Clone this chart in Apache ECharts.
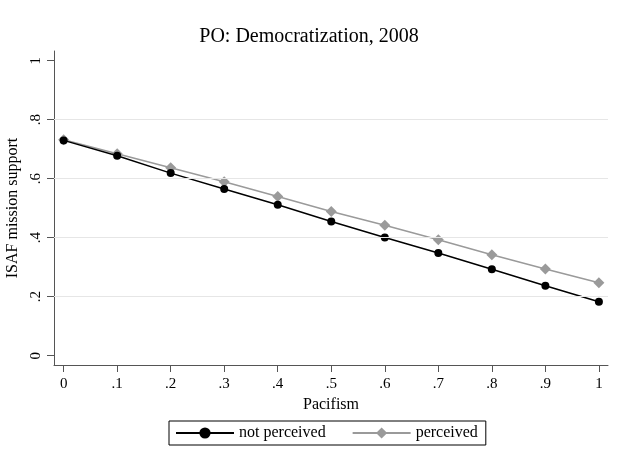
<!DOCTYPE html>
<html>
<head>
<meta charset="utf-8">
<script src="https://cdn.jsdelivr.net/npm/echarts@6/dist/echarts.min.js"></script>
<style>html,body{margin:0;padding:0;background:#fff}#c{width:618px;height:459px}</style>
</head>
<body>
<div id="c"></div>
<script>
const pacifism = [0, 0.1, 0.2, 0.3, 0.4, 0.5, 0.6, 0.7, 0.8, 0.9, 1];
const notPerceived = [0.730, 0.678, 0.619, 0.565, 0.512, 0.455, 0.401, 0.348, 0.293, 0.237, 0.183];
const perceived = [0.732, 0.685, 0.637, 0.590, 0.540, 0.489, 0.442, 0.393, 0.342, 0.294, 0.247];
const xTicks = [0, 0.1, 0.2, 0.3, 0.4, 0.5, 0.6, 0.7, 0.8, 0.9, 1];
const yTicks = [0, 0.2, 0.4, 0.6, 0.8, 1];
const yGrid = [0.2, 0.4, 0.6, 0.8];

const FONT = '"Liberation Serif", "DejaVu Serif", serif';
function fmt(v) {
  v = +(+v).toFixed(2);
  if (v === 0) return '0';
  if (v === 1) return '1';
  return String(v).replace(/^0\./, '.');
}
const chart = echarts.init(document.getElementById('c'), null, {renderer: 'canvas'});
chart.setOption({
  animation: false,
  backgroundColor: '#fff',
  title: {
    text: 'PO: Democratization, 2008',
    left: 'center',
    top: 27,
    padding: 0,
    textStyle: {fontFamily: FONT, fontWeight: 'normal', fontSize: 20, color: '#000'}
  },
  grid: {left: 54, right: 10, top: 51, bottom: 94, containLabel: false, outerBoundsMode: 'none'},
  xAxis: {
    type: 'value',
    min: -0.018, max: 1.017,
    name: 'Pacifism',
    nameLocation: 'middle',
    nameGap: 25,
    nameTextStyle: {fontFamily: FONT, fontSize: 16, color: '#000'},
    axisLine: {show: true, onZero: false, lineStyle: {color: '#555', width: 1}},
    axisTick: {show: true, customValues: xTicks, length: 7, lineStyle: {color: '#555', width: 1}},
    axisLabel: {customValues: xTicks, formatter: fmt, margin: 12, fontFamily: FONT, fontSize: 15, color: '#000'},
    splitLine: {show: false}
  },
  yAxis: {
    type: 'value',
    min: -0.0315, max: 1.033,
    name: 'ISAF mission support',
    nameLocation: 'middle',
    nameGap: 32,
    nameRotate: 90,
    nameTextStyle: {fontFamily: FONT, fontSize: 16, color: '#000'},
    axisLine: {show: true, onZero: false, lineStyle: {color: '#555', width: 1}},
    axisTick: {show: true, customValues: yTicks, length: 7, lineStyle: {color: '#555', width: 1}},
    axisLabel: {customValues: yTicks, formatter: fmt, rotate: 90, margin: 10, fontFamily: FONT, fontSize: 15, color: '#000'},
    splitLine: {show: false}
  },
  legend: {
    data: ['not perceived', 'perceived'],
    left: 169,
    top: 421,
    padding: [4, 8, 4, 6],
    itemWidth: 58,
    itemHeight: 14,
    itemGap: 26,
    borderColor: '#000',
    borderWidth: 1,
    textStyle: {fontFamily: FONT, fontSize: 16, color: '#000'}
  },
  series: [
    {
      name: 'grid',
      type: 'line',
      data: [],
      z: 1,
      silent: true,
      markLine: {
        silent: true,
        symbol: ['none', 'none'],
        label: {show: false},
        lineStyle: {color: '#e6e6e6', type: 'solid', width: 1},
        data: yGrid.map(v => ({yAxis: v}))
      }
    },
    {
      name: 'not perceived',
      type: 'line',
      z: 3,
      data: pacifism.map((x, i) => [x, notPerceived[i]]),
      symbol: 'circle',
      symbolSize: 8,
      lineStyle: {color: '#000', width: 1.5},
      itemStyle: {color: '#000'}
    },
    {
      name: 'perceived',
      type: 'line',
      z: 2,
      data: pacifism.map((x, i) => [x, perceived[i]]),
      symbol: 'diamond',
      symbolSize: 11,
      lineStyle: {color: '#9a9a9a', width: 1.5},
      itemStyle: {color: '#9a9a9a'}
    }
  ]
});
</script>
</body>
</html>
